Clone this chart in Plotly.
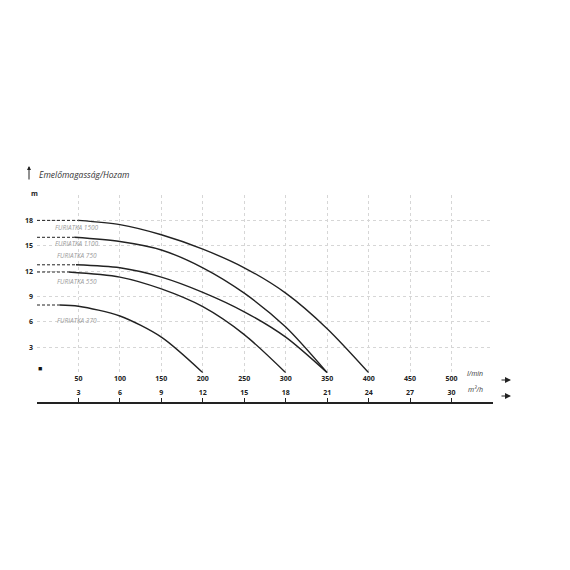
import plotly.graph_objects as go

# ---- data ----
flow_ticks = [50, 100, 150, 200, 250, 300, 350, 400, 450, 500]
m3h_ticks = [3, 6, 9, 12, 15, 18, 21, 24, 27, 30]
head_ticks = [3, 6, 9, 12, 15, 18]

pumps = ["FURIATKA 1500", "FURIATKA 1100", "FURIATKA 750", "FURIATKA 550", "FURIATKA 370"]
q_1500 = [50, 100, 150, 200, 250, 300, 350, 400]
h_1500 = [18.0, 17.5, 16.3, 14.6, 12.4, 9.4, 5.2, 0.0]
q_1100 = [45, 100, 150, 200, 250, 300, 350]
h_1100 = [16.0, 15.5, 14.5, 12.4, 9.4, 5.4, 0.0]
q_750 = [47, 100, 150, 200, 250, 300, 350]
h_750 = [12.75, 12.4, 11.3, 9.5, 7.2, 4.2, 0.0]
q_550 = [38, 100, 150, 200, 250, 300]
h_550 = [11.9, 11.3, 9.9, 7.8, 4.5, 0.0]
q_370 = [27, 50, 100, 150, 200]
h_370 = [8.0, 7.85, 6.7, 4.2, 0.0]

series = [(q_1500, h_1500), (q_1100, h_1100), (q_750, h_750), (q_550, h_550), (q_370, h_370)]
label_pos = [(19, 17.2), (19, 15.3), (22, 13.8), (22, 10.8), (22, 6.2)]

# ---- figure geometry (page has an 8px body offset) ----
OFF = 8
W, H = 570, 570
ML, MR, MT, MB = 37 - OFF, 570 - (493 - OFF), 195 - OFF, 570 - (410 - OFF)
PW, PH = W - ML - MR, H - MT - MB


def px(x):
    return (x - OFF - ML) / PW


def py(y):
    return (H - MB - (y - OFF)) / PH


fig = go.Figure()

for (q, h) in series:
    fig.add_trace(go.Scatter(x=[0, q[0]], y=[h[0], h[0]], mode="lines",
                             line=dict(color="#222", width=1, dash="3px,2px"),
                             hoverinfo="skip", showlegend=False))
    fig.add_trace(go.Scatter(x=q, y=h, mode="lines",
                             line=dict(color="#222", width=1.4, shape="spline", smoothing=0.8),
                             showlegend=False))

# invisible trace for second axis
fig.add_trace(go.Scatter(x=[0, 33], y=[None, None], xaxis="x2", mode="lines",
                         showlegend=False, hoverinfo="skip"))

for name, (lx, ly) in zip(pumps, label_pos):
    fig.add_annotation(x=lx, y=ly, xref="x", yref="y", text=name, showarrow=False,
                       xanchor="left", yanchor="middle",
                       font=dict(family="Open Sans", size=6.5, color="#9a9a9a", style="italic"))

tickfont = dict(family="Open Sans", size=7, color="#222", weight="bold")

fig.update_layout(
    width=W, height=H, margin=dict(l=ML, r=MR, t=MT, b=MB, autoexpand=False),
    paper_bgcolor="white", plot_bgcolor="white",
    xaxis=dict(range=[0, 550], tickvals=[0] + flow_ticks + [550],
               ticktext=[""] + [str(v) for v in flow_ticks] + [""],
               showgrid=True, gridcolor="#d6d6d6", griddash="dot", gridwidth=1,
               zeroline=False, showline=False, ticks="", tickfont=tickfont,
               anchor="y", automargin=False),
    xaxis2=dict(range=[0, 33], overlaying="x", side="top", anchor="free", position=py(403),
                tickvals=m3h_ticks, ticktext=[str(v) for v in m3h_ticks],
                showgrid=False, zeroline=False, showline=True, linecolor="#222", linewidth=1.5,
                ticks="outside", ticklen=4, tickwidth=1, tickcolor="#222", tickfont=tickfont,
                automargin=False),
    yaxis=dict(range=[0, 21], domain=[py(372.7), 1], tickvals=[0] + head_ticks + [21],
               ticktext=[""] + [str(v) for v in head_ticks] + [""],
               showgrid=True, gridcolor="#d6d6d6", griddash="dot", gridwidth=1,
               zeroline=False, showline=False, ticks="", tickfont=tickfont, automargin=False,
               ticklabelstandoff=3),
)

# texts & arrows
fig.add_annotation(x=px(37), y=py(174), xref="paper", yref="paper", text="Emelőmagasság/Hozam",
                   showarrow=False, xanchor="left", yanchor="middle",
                   font=dict(family="Open Sans", size=8.5, color="#333", style="italic"))
fig.add_annotation(x=px(29), y=py(166), xref="paper", yref="paper", text="", showarrow=True,
                   ax=0, ay=15, arrowhead=2, arrowsize=0.8, arrowwidth=1, arrowcolor="#222")
fig.add_annotation(x=px(29), y=py(187), xref="paper", yref="paper", text="m", showarrow=False,
                   font=tickfont)
fig.add_annotation(x=px(36), y=py(375), xref="paper", yref="paper", text="■", showarrow=False,
                   font=dict(size=7, color="#111"))
fig.add_annotation(x=px(485), y=py(380), xref="paper", yref="paper", text="l/min", showarrow=False,
                   font=dict(family="Open Sans", size=7, color="#333", style="italic"))
fig.add_annotation(x=px(511), y=py(380), xref="paper", yref="paper", text="", showarrow=True,
                   ax=-11, ay=0, arrowhead=2, arrowsize=1, arrowwidth=1.2, arrowcolor="#222")
fig.add_annotation(x=px(485), y=py(396), xref="paper", yref="paper", text="m³/h", showarrow=False,
                   font=dict(family="Open Sans", size=7, color="#333", style="italic"))
fig.add_annotation(x=px(511), y=py(396), xref="paper", yref="paper", text="", showarrow=True,
                   ax=-11, ay=0, arrowhead=2, arrowsize=1, arrowwidth=1.2, arrowcolor="#222")

fig.write_html("out.html")
